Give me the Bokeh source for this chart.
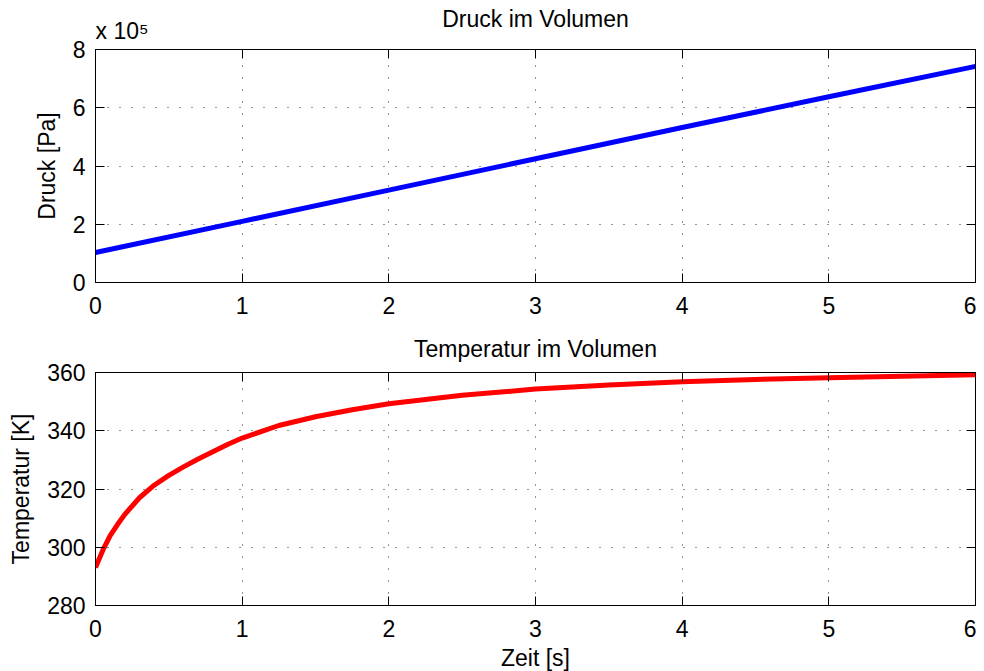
from bokeh.plotting import figure
from bokeh.layouts import column
from bokeh.models import LinearAxis, Range1d, FixedTicker, Title
from bokeh.embed import file_html
from bokeh.resources import INLINE

# ---- data ----
zeit_druck = [0, 1, 2, 3, 4, 5, 6]
druck_1e5_pa = [1.03, 2.10, 3.17, 4.25, 5.32, 6.38, 7.42]

zeit_temp = [0, 0.05, 0.1, 0.15, 0.2, 0.3, 0.4, 0.5, 0.6, 0.7, 0.8, 0.9, 1.0,
             1.25, 1.5, 1.75, 2.0, 2.5, 3.0, 3.5, 4.0, 4.5, 5.0, 5.5, 6.0]
temperatur_k = [293, 299, 304, 307.8, 311.3, 317, 321.3, 324.7, 327.6, 330.3,
                332.8, 335.3, 337.5, 341.8, 344.8, 347.2, 349.3, 352.2, 354.3,
                355.7, 356.8, 357.6, 358.2, 358.7, 359.2]

x_ticks = [0, 1, 2, 3, 4, 5, 6]
druck_ticks = [0, 2, 4, 6, 8]
temp_ticks = [280, 300, 320, 340, 360]
druck_scale_text = "x 10\u2075"

FONT = "Liberation Sans"
FS = "23px"


def style(p, xt, yt):
    p.outline_line_color = "black"
    p.outline_line_width = 1
    for ax in (p.xaxis[0], p.yaxis[0]):
        ax.major_label_text_font = FONT
        ax.major_label_text_font_size = FS
        ax.major_label_text_color = "black"
        ax.axis_label_text_font = FONT
        ax.axis_label_text_font_size = FS
        ax.axis_label_text_font_style = "normal"
        ax.axis_label_text_color = "black"
        ax.major_tick_in = 9
        ax.major_tick_out = 0
        ax.minor_tick_line_color = None
        ax.axis_line_color = "black"
        ax.major_tick_line_color = "black"
    p.xaxis[0].ticker = FixedTicker(ticks=xt)
    p.yaxis[0].ticker = FixedTicker(ticks=yt)
    p.xaxis[0].major_label_standoff = 14
    p.yaxis[0].major_label_standoff = 10
    p.yaxis[0].axis_label_standoff = 10
    # mirrored ticks (no labels)
    for side, t in (("right", yt), ("above", xt)):
        ax = LinearAxis(ticker=FixedTicker(ticks=t))
        ax.major_label_text_font_size = "1px"
        ax.major_label_text_color = None
        ax.major_label_standoff = 0
        ax.major_tick_in = 9
        ax.major_tick_out = 0
        ax.minor_tick_line_color = None
        ax.axis_line_color = "black"
        ax.major_tick_line_color = "black"
        p.add_layout(ax, side)
    p.xgrid[0].ticker = FixedTicker(ticks=xt)
    p.ygrid[0].ticker = FixedTicker(ticks=yt)
    for g in (p.xgrid[0], p.ygrid[0]):
        g.grid_line_color = "black"
        g.grid_line_alpha = 0.85
        g.grid_line_dash = "1 11"
        g.grid_line_width = 1
    p.title.text_font = FONT
    p.title.text_font_size = FS
    p.title.text_font_style = "normal"
    p.title.text_color = "black"
    p.title.align = "center"


p1 = figure(frame_width=880, frame_height=233,
            min_border_left=95, min_border_right=1,
            min_border_top=49, min_border_bottom=39,
            x_range=Range1d(0, 6), y_range=Range1d(0, 8),
            title="Druck im Volumen",
            output_backend="svg", toolbar_location=None)
p1.line(zeit_druck, druck_1e5_pa, line_color="#0000ff", line_width=5)
p1.yaxis.axis_label = "Druck [Pa]"
style(p1, x_ticks, druck_ticks)
p1.xaxis[0].major_label_standoff = 12
scale_title = Title(text=druck_scale_text, align="left", text_font=FONT,
                    text_font_size="23px", text_font_style="normal",
                    text_color="black", standoff=12)
p1.add_layout(scale_title, "above")
p1.title.standoff = -44

p2 = figure(frame_width=880, frame_height=233,
            min_border_left=95, min_border_right=1,
            min_border_top=51, min_border_bottom=66,
            x_range=Range1d(0, 6), y_range=Range1d(280, 360),
            title="Temperatur im Volumen",
            output_backend="svg", toolbar_location=None)
p2.line(zeit_temp, temperatur_k, line_color="#ff0000", line_width=5)
p2.yaxis.axis_label = "Temperatur [K]"
p2.xaxis.axis_label = "Zeit [s]"
style(p2, x_ticks, temp_ticks)
p2.title.standoff = 21
p2.xaxis[0].axis_label_standoff = -3

layout = column(p1, p2, spacing=0)
open("out.html", "w").write(file_html(layout, INLINE))
